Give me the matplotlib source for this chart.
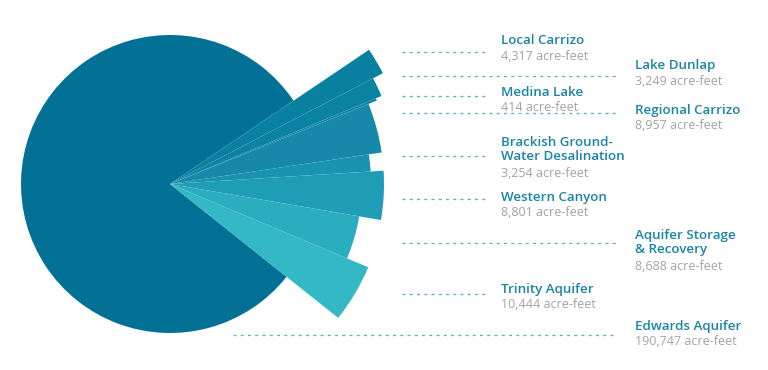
import matplotlib
matplotlib.use('Agg')
import matplotlib.pyplot as plt

# Water supply sources, in acre-feet
sources = ['Local Carrizo', 'Lake Dunlap', 'Medina Lake', 'Regional Carrizo',
           'Brackish Ground-\nWater Desalination', 'Western Canyon',
           'Aquifer Storage\n& Recovery', 'Trinity Aquifer', 'Edwards Aquifer']
acre_feet = [4317, 3249, 414, 8957, 3254, 8801, 8688, 10444, 190747]

# outer radius of each slice in pixels (small ones are pulled out so they show)
radii = [240, 229, 223, 214, 201, 214, 192, 215, 149]
colors = ['#0a80a0', '#0c82a2', '#0f85a5', '#1689aa', '#1a93b0', '#209db6',
          '#2aadbf', '#33b8c5', '#037096']

# label layout: text x, first-line baseline y, leader line y, leader start/end (pixels from top)
label_x = [501, 635, 501, 635, 501, 501, 635, 501, 635]
name_y = [44.5, 69.5, 95.5, 114, 146, 200.5, 239, 292.5, 330]
line_y = [51.5, 76, 95.5, 112.5, 155.5, 199, 242.5, 294, 335]
line_x0 = [402, 402, 402, 402, 402, 402, 402, 402, 233]
line_x1 = [485, 617, 485, 617, 485, 485, 617, 485, 617]

W, H = 768, 370
cx, cy = 170, 184

fig = plt.figure(figsize=(W / 100, H / 100), dpi=100)
ax = fig.add_axes([0, 0, 1, 1])

wedges, _ = ax.pie(acre_feet, colors=colors, startangle=34, counterclock=False,
                   center=(cx, H - cy), radius=149, frame=True,
                   wedgeprops=dict(linewidth=0))
for w, r in zip(wedges, radii):
    w.set_radius(r)
# big slice sits underneath the pulled-out ones
wedges[-1].set_zorder(0)

name_font = dict(family=['Open Sans', 'DejaVu Sans'], fontsize=9.6,
                 fontweight='semibold', color='#1a84a4')
value_font = dict(family=['Open Sans', 'DejaVu Sans'], fontsize=9,
                  color='#a3a3a3')

for name, val, x, ny, ly, x0, x1 in zip(sources, acre_feet, label_x, name_y,
                                        line_y, line_x0, line_x1):
    ax.plot([x0, x1], [H - ly, H - ly], color='#5aaec6', lw=0.9,
            linestyle=(0, (2.4, 3.4)))
    # va='baseline' anchors the last line, so shift down for two-line names
    nl = name.count('\n')
    last = ny + 14 * nl
    ax.text(x, H - last, name, va='baseline', ha='left', linespacing=1.05,
            **name_font)
    gap = 17 if nl else 15.3
    ax.text(x, H - (last + gap), f'{val:,} acre-feet',
            va='baseline', ha='left', **value_font)

ax.set_xlim(0, W)
ax.set_ylim(0, H)
ax.set_aspect('equal')
ax.axis('off')

fig.savefig('out.png', dpi=100)
